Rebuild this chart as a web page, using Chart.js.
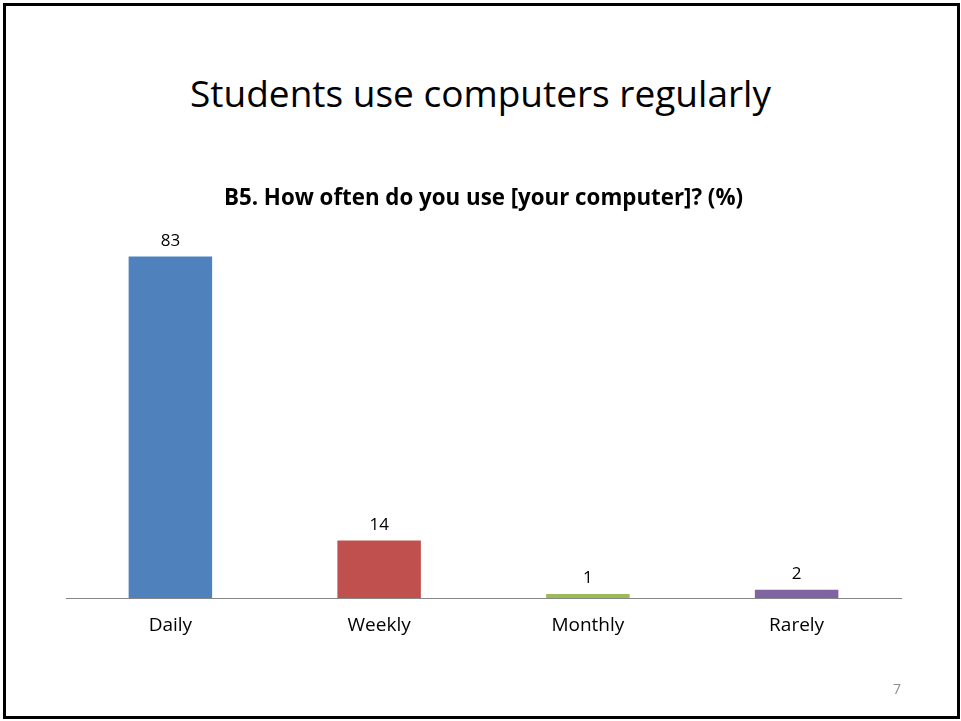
<!DOCTYPE html>
<html>
<head>
<meta charset="utf-8">
<script src="https://cdn.jsdelivr.net/npm/chart.js@4"></script>
<style>
 body{margin:0;background:#fff;}
 #slide{position:relative;width:961px;height:721px;overflow:hidden;}
 #frame{position:absolute;left:3px;top:3px;width:951px;height:710px;border:3px solid #000;}
 #titulo{position:absolute;left:0;width:961px;top:67px;text-align:center;font-family:"Open Sans",sans-serif;font-size:37px;color:#000;}
 #pagina{position:absolute;left:880px;top:679px;width:34px;text-align:center;font-family:"Open Sans",sans-serif;font-size:14px;color:#8c8c8c;}
 canvas{position:absolute;left:0;top:0;}
</style>
</head>
<body>
<div id="slide">
 <div id="frame"></div>
 <div id="titulo">Students use computers regularly</div>
 <canvas id="grafica" width="961" height="721"></canvas>
 <div id="pagina">7</div>
</div>
<script>
var categorias=['Daily','Weekly','Monthly','Rarely'];
var valores=[83,14,1,2];
var colores=['#4f81bd','#c0504d','#9bbb59','#8064a2'];
var subtitulo='B5. How often do you use [your computer]? (%)';

// etiquetas de valor encima de cada barra
var etiquetas={
 id:'etiquetas',
 afterDatasetsDraw:function(chart){
   var ctx=chart.ctx;
   var meta=chart.getDatasetMeta(0);
   ctx.save();
   ctx.font='17px "Open Sans", sans-serif';
   ctx.fillStyle='#000';
   ctx.textAlign='center';
   ctx.textBaseline='bottom';
   for(var x=0;x<meta.data.length;x++){
     var barra=meta.data[x];
     ctx.fillText(valores[x],barra.x,barra.y-7);
   }
   ctx.restore();
 }
};

var ctx=document.getElementById('grafica').getContext('2d');
var myChart=new Chart(ctx,{
 type:'bar',
 data:{
   labels:categorias,
   datasets:[{
     data:valores,
     backgroundColor:colores,
     borderWidth:0,
     barPercentage:0.4,
     categoryPercentage:1
   }]
 },
 options:{
   responsive:false,
   animation:false,
   layout:{padding:{left:66,right:60,top:0,bottom:73}},
   plugins:{
     legend:{display:false},
     tooltip:{enabled:false},
     title:{
       display:true,
       text:subtitulo,
       color:'#000',
       font:{family:'"Open Sans", sans-serif',size:22.3,weight:'bold'},
       padding:{top:185,bottom:16}
     }
   },
   scales:{
     x:{
       grid:{display:false,drawTicks:false},
       border:{display:true,color:'#868686',width:1},
       ticks:{color:'#000',padding:16,font:{family:'"Open Sans", sans-serif',size:19}},
       afterFit:function(scale){scale.height=50;}
     },
     y:{
       display:false,
       min:0,
       max:90
     }
   }
 },
 plugins:[etiquetas]
});
</script>
</body>
</html>
